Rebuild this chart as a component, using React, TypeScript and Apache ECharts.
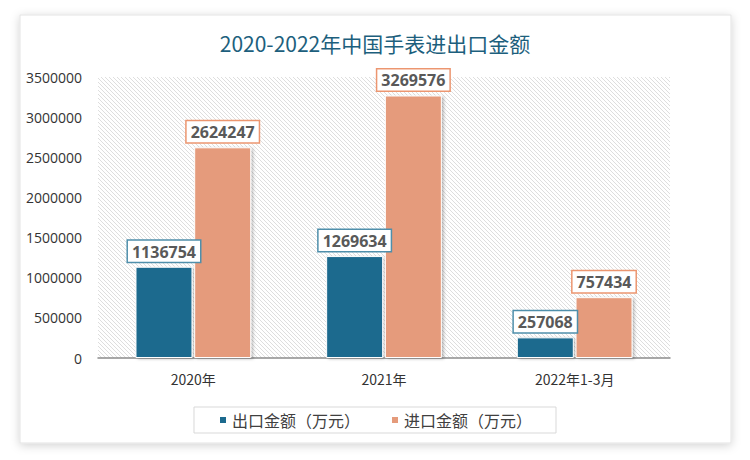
import React, { useEffect, useRef } from "react";
import * as echarts from "echarts";

const categories = ["2020年", "2021年", "2022年1-3月"];
const exportValues = [1136754, 1269634, 257068];
const importValues = [2624247, 3269576, 757434];
const seriesNames = ["出口金额（万元）", "进口金额（万元）"];
const titleText = "2020-2022年中国手表进出口金额";

function makeHatch(): string {
  const s = 4;
  const c = document.createElement("canvas");
  c.width = s;
  c.height = s;
  const ctx = c.getContext("2d");
  if (ctx) {
    ctx.fillStyle = "#ffffff";
    ctx.fillRect(0, 0, s, s);
    ctx.strokeStyle = "#dedede";
    ctx.lineWidth = 1;
    ctx.beginPath();
    ctx.moveTo(0, 0);
    ctx.lineTo(s, s);
    ctx.moveTo(-s / 2, s / 2);
    ctx.lineTo(s / 2, s * 1.5);
    ctx.moveTo(s / 2, -s / 2);
    ctx.lineTo(s * 1.5, s / 2);
    ctx.stroke();
  }
  return c.toDataURL();
}

export default function App() {
  const ref = useRef<HTMLDivElement>(null);
  useEffect(() => {
    document.body.style.margin = "0";
    if (!ref.current) return;
    const chart = echarts.init(ref.current, null, { renderer: "svg" });
    const hatch = makeHatch();
    const font = "'Noto Sans CJK SC', 'Noto Sans', sans-serif";
    const labelCfg = (color: string) => ({
      show: true,
      position: "top",
      distance: 5,
      formatter: "{c}",
      backgroundColor: "#ffffff",
      borderColor: color,
      borderWidth: 1.5,
      padding: [3, 4, 2, 4],
      color: "#595959",
      fontWeight: "bold",
      fontSize: 16,
      fontFamily: "'Open Sans', 'Noto Sans', sans-serif",
    });
    chart.setOption({
      animation: false,
      backgroundColor: "#ffffff",
      textStyle: { fontFamily: font },
      graphic: [
        {
          type: "rect",
          z: -10,
          silent: true,
          shape: { x: 20, y: 15, width: 711, height: 428 },
          style: {
            fill: "#ffffff",
            stroke: "#e3e3e3",
            lineWidth: 1,
            shadowBlur: 10,
            shadowColor: "rgba(0,0,0,0.18)",
            shadowOffsetX: 0,
            shadowOffsetY: 2,
          },
        },
      ],
      title: {
        text: titleText,
        left: "center",
        top: 27,
        textStyle: {
          color: "#1d5f7d",
          fontSize: 21,
          fontWeight: "normal",
          fontFamily: font,
        },
      },
      legend: {
        bottom: 27,
        left: "center",
        itemWidth: 8,
        itemHeight: 8,
        itemGap: 30,
        icon: "rect",
        borderColor: "#d9d9d9",
        borderWidth: 1,
        padding: [5, 24, 5, 24],
        textStyle: { fontSize: 16, color: "#404040", fontFamily: font },
        data: seriesNames,
      },
      grid: {
        left: 98,
        right: 80,
        top: 77,
        bottom: 102,
        show: true,
        borderWidth: 0,
        backgroundColor: { image: hatch, repeat: "repeat" },
      },
      xAxis: {
        type: "category",
        data: categories,
        axisTick: { show: false },
        axisLine: { lineStyle: { color: "#8c8c8c", width: 1.5 } },
        axisLabel: { color: "#333333", fontSize: 14, margin: 14 },
      },
      yAxis: {
        type: "value",
        min: 0,
        max: 3500000,
        interval: 500000,
        splitLine: { show: false },
        axisLine: { show: false },
        axisTick: { show: false },
        axisLabel: {
          color: "#333333",
          fontSize: 14,
          margin: 16,
          formatter: (v: number) => String(v),
          fontFamily: "'Open Sans', 'Noto Sans', sans-serif",
        },
      },
      series: [
        {
          name: seriesNames[0],
          type: "bar",
          data: exportValues,
          barWidth: 57,
          barGap: "3%",
          itemStyle: {
            color: "#1c6a8e",
            borderColor: "#ffffff",
            borderWidth: 1,
            shadowBlur: 3,
            shadowColor: "rgba(0,0,0,0.25)",
            shadowOffsetX: 2,
            shadowOffsetY: 1,
          },
          label: labelCfg("#4f8fab"),
        },
        {
          name: seriesNames[1],
          type: "bar",
          data: importValues,
          barWidth: 57,
          itemStyle: {
            color: "#e59b7b",
            borderColor: "#ffffff",
            borderWidth: 1,
            shadowBlur: 3,
            shadowColor: "rgba(0,0,0,0.25)",
            shadowOffsetX: 2,
            shadowOffsetY: 1,
          },
          label: labelCfg("#ec9670"),
        },
      ],
    });
    return () => chart.dispose();
  }, []);
  return <div ref={ref} style={{ width: 750, height: 460 }} />;
}
